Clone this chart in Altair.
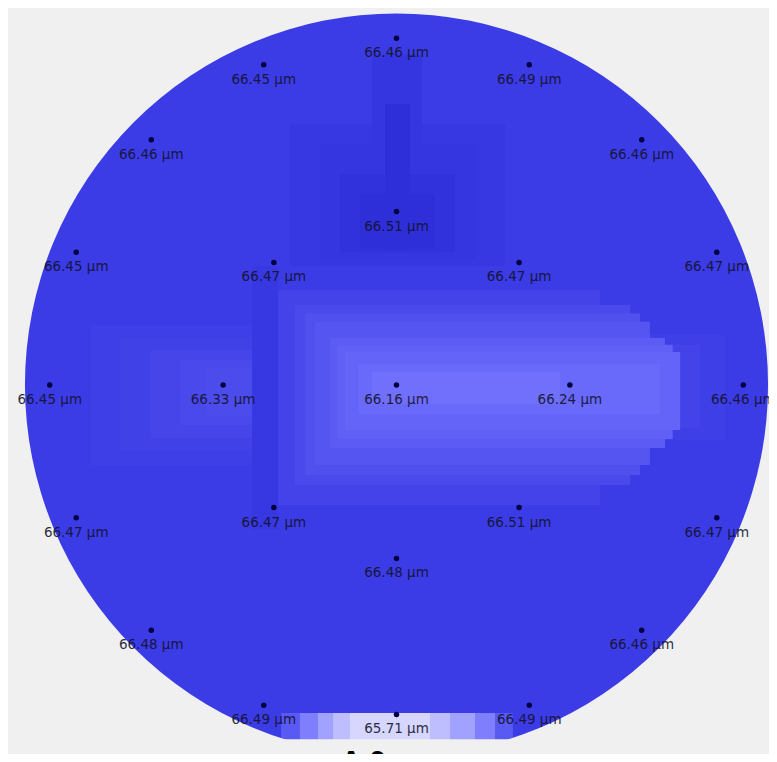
import altair as alt
import pandas as pd

# ---------------- data (wafer coordinates in mm, values in µm) ----------------
# measurement sites
site_x = [0.0, 70.0, 49.5, 0.0, -49.5, -70.0, -49.5, 0.0, 49.5,
          140.0, 129.3, 99.0, 53.6, 0.0, -53.6, -99.0, -129.3,
          -140.0, -129.3, -99.0, -53.6, 0.0, 53.6, 99.0, 129.3]
site_y = [0.0, 0.0, 49.5, 70.0, 49.5, 0.0, -49.5, -70.0, -49.5,
          0.0, 53.6, 99.0, 129.3, 140.0, 129.3, 99.0, 53.6,
          0.0, -53.6, -99.0, -129.3, -133.0, -129.3, -99.0, -53.6]
site_val = [66.16, 66.24, 66.47, 66.51, 66.47, 66.33, 66.47, 66.48, 66.51,
            66.46, 66.47, 66.46, 66.49, 66.46, 66.45, 66.46, 66.45,
            66.45, 66.47, 66.48, 66.49, 65.71, 66.49, 66.46, 66.47]

band_x1 = [-160.0,
           -43.0, -30.9, -9.9, -22.8, -14.7, -4.6,
           -123.7, -111.6, -99.5, -87.4, -77.3,
           66.0, 66.0,
           -47.8, -41.0, -36.9, -32.9, -26.8, -23.8, -20.8, -15.5, -9.9,
           -58.3,
           -46.6, -39.0, -31.7, -25.6, -18.8]
band_x2 = [160.0,
           43.8, 31.7, 10.3, 23.6, 15.5, 5.4,
           -57.1, -57.1, -57.1, -57.1, -57.1,
           132.6, 122.6,
           82.2, 94.3, 98.3, 102.3, 108.4, 111.5, 114.5, 106.4, 66.0,
           -47.8,
           47.0, 39.8, 31.7, 21.6, 13.5]
band_y1 = [160.0,
           105.2, 97.1, 133.5, 85.0, 76.9, 113.3,
           24.2, 19.0, 14.1, 10.1, 6.9,
           20.2, 16.1,
           38.4, 32.3, 28.9, 25.5, 19.0, 16.2, 13.3, 8.5, 5.3,
           47.9,
           -132.4, -132.4, -132.4, -132.4, -132.4]
band_y2 = [-160.0,
           47.9, 50.7, 52.7, 53.5, 54.7, 54.7,
           -32.3, -26.2, -21.4, -16.1, -12.1,
           -22.2, -17.4,
           -48.4, -40.4, -36.3, -32.3, -25.4, -21.8, -18.2, -11.7, -7.7,
           -58.3,
           -150.0, -150.0, -150.0, -150.0, -150.0]
band_val = [66.46,
            66.475, 66.485, 66.485, 66.50, 66.51, 66.51,
            66.445, 66.43, 66.41, 66.39, 66.37,
            66.445, 66.42,
            66.42, 66.38, 66.35, 66.32, 66.28, 66.26, 66.24, 66.21, 66.17,
            66.475,
            66.30, 66.10, 65.95, 65.82, 65.71]

wafer_radius = [150.0]
mask_outer = [270.0]
flat_y = [-143.0]
footer_text = ["A  0"]

# ---------------- tables ----------------
sites = pd.DataFrame({"x": site_x, "y": site_y, "v": site_val})
sites["label"] = sites["v"].map(lambda v: f"{v:.2f} µm")
bands = pd.DataFrame({"x1": band_x1, "x2": band_x2, "y1": band_y1,
                      "y2": band_y2, "v": band_val})
mask = pd.DataFrame({"cx": [0.0], "cy": [0.0], "r_in": wafer_radius, "r_out": mask_outer})
flat = pd.DataFrame({"x1": [-170.0], "x2": [170.0], "y1": flat_y, "y2": [-160.0]})
footer = pd.DataFrame({"x": [-13.5], "y": [-146.3], "t": footer_text})

BG = "#f0f0f0"
PXMM = 2.477
W, H = 761, 746
CX, CY = 388.5, 377.0
xs = alt.Scale(domain=[-CX / PXMM, (W - CX) / PXMM], nice=False, zero=False)
ys = alt.Scale(domain=[-(H - CY) / PXMM, CY / PXMM], nice=False, zero=False)
rs = alt.Scale(type="linear", domain=[0, 150], range=[0, 150 * PXMM], zero=True, nice=False)
cs = alt.Scale(domain=[65.71, 66.16, 66.46, 66.53],
               range=["#d6d6ff", "#7272fe", "#3c3ce6", "#2a2ad4"], interpolate="rgb")

heat = alt.Chart(bands).mark_rect(clip=True).encode(
    x=alt.X("x1:Q", scale=xs, axis=None),
    x2="x2:Q",
    y=alt.Y("y1:Q", scale=ys, axis=None),
    y2="y2:Q",
    color=alt.Color("v:Q", scale=cs, legend=None),
)

ring = alt.Chart(mask).mark_arc(color=BG, theta=0, theta2=6.2832, clip=True).encode(
    x=alt.X("cx:Q", scale=xs, axis=None),
    y=alt.Y("cy:Q", scale=ys, axis=None),
    radius=alt.Radius("r_out:Q", scale=rs),
    radius2="r_in:Q",
)

flat_mask = alt.Chart(flat).mark_rect(color=BG, clip=True).encode(
    x=alt.X("x1:Q", scale=xs, axis=None), x2="x2:Q",
    y=alt.Y("y1:Q", scale=ys, axis=None), y2="y2:Q",
)

dots = alt.Chart(sites).mark_circle(size=30, color="#000040", opacity=1).encode(
    x=alt.X("x:Q", scale=xs, axis=None),
    y=alt.Y("y:Q", scale=ys, axis=None),
)

labels = alt.Chart(sites).mark_text(
    font="DejaVu Sans", fontSize=13.5, color="#12122a", opacity=0.88,
    baseline="middle", align="center", dy=15,
).encode(
    x=alt.X("x:Q", scale=xs, axis=None),
    y=alt.Y("y:Q", scale=ys, axis=None),
    text="label:N",
)

foot = alt.Chart(footer).mark_text(
    font="Liberation Sans", fontSize=30, fontWeight="bold", color="#000000",
    baseline="top", align="center",
).encode(
    x=alt.X("x:Q", scale=xs, axis=None),
    y=alt.Y("y:Q", scale=ys, axis=None),
    text="t:N",
)

chart = alt.layer(heat, ring, flat_mask, dots, labels, foot).properties(
    width=W, height=H,
    background=BG,
    padding=0,
    autosize=alt.AutoSizeParams(type="none", contains="padding"),
).configure_view(stroke=None)

chart.save("out.html", embed_options={"renderer": "svg", "actions": False})
